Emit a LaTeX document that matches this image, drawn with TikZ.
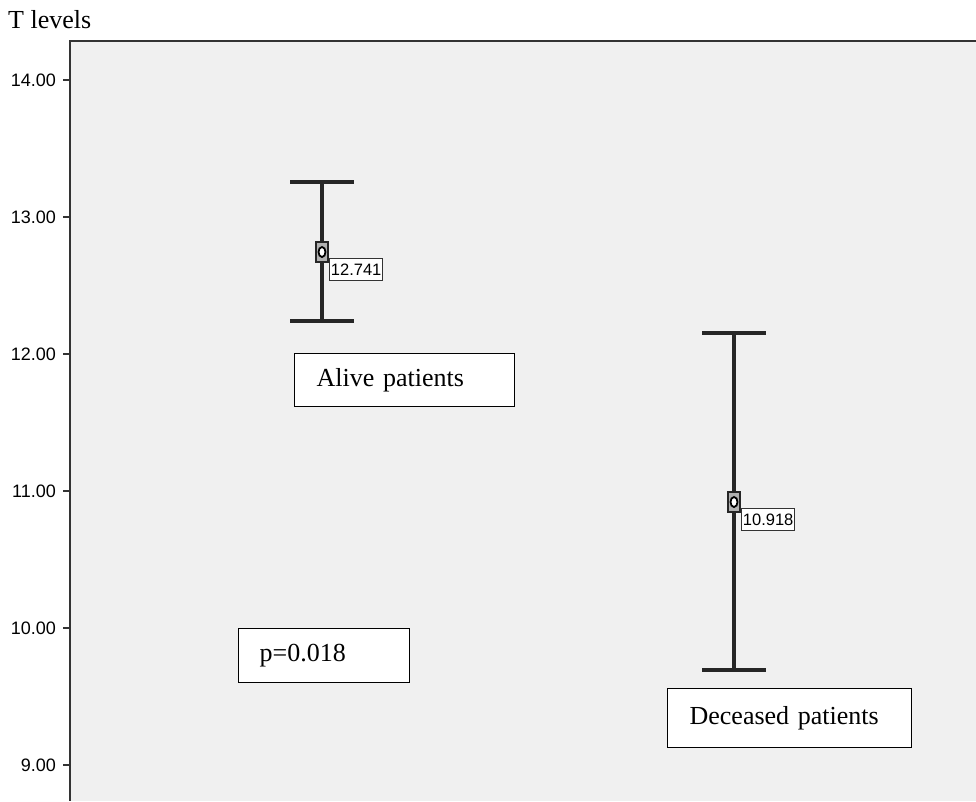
\documentclass[tikz,border=0pt]{standalone}
\usepackage{fontspec}
\setmainfont{Liberation Serif}
\setsansfont{Liberation Sans}
\definecolor{plotbg}{HTML}{F0F0F0}
\definecolor{axisgray}{HTML}{333333}
\tikzset{
  legendbox/.style={draw=black, line width=1.2pt, fill=white, font=\fontsize{26}{30}\selectfont,
    anchor=north west, align=left, inner xsep=22pt, inner ysep=0pt},
  meanlabel/.style={draw=axisgray, line width=0.8pt, fill=white, anchor=north west,
    font=\sffamily\fontsize{16.5}{18}\selectfont, inner xsep=1.5pt, inner ysep=1pt,
    minimum height=22pt},
  errbar/.style={line width=3.2pt, color=black!85},
  ticklabel/.style={anchor=east, font=\sffamily\fontsize{18}{20}\selectfont, inner sep=1pt}
}
\begin{document}
\begin{tikzpicture}[x=1pt, y=-1pt]
    \useasboundingbox (0,0) rectangle (976,801);

    % Plot area
    \fill[plotbg] (70,41) rectangle (976,801);
    \draw[axisgray, line width=2pt] (976,41) -- (70,41) -- (70,801);

    % Axis title
    \node[anchor=west, font=\fontsize{26}{30}\selectfont, inner sep=0pt] (ytitle) at (8,20) {T levels};

    % Ticks
    \foreach \v in {9,...,14} {
        \pgfmathsetmacro{\ypos}{628-(\v-10)*137}
        \draw[axisgray, line width=1.5pt] (63,\ypos) -- (70,\ypos);
        \node[ticklabel] at (57,\ypos) {\v.00};
    }

    % Alive patients
    \coordinate (alivetop) at (322,182);
    \coordinate (alivebot) at (322,321);
    \coordinate (alivemean) at (322,252);
    \draw[errbar] (alivetop) -- (alivebot);
    \draw[errbar] ([xshift=-32pt]alivetop) -- ([xshift=32pt]alivetop);
    \draw[errbar] ([xshift=-32pt]alivebot) -- ([xshift=32pt]alivebot);
    \filldraw[fill=gray!60, draw=black!85, line width=1.2pt] ([xshift=-6pt,yshift=10pt]alivemean) rectangle ([xshift=6pt,yshift=-10pt]alivemean);
    \filldraw[fill=white, draw=black, line width=1.8pt] (alivemean) ellipse (3.5pt and 5pt);
    \node[meanlabel] (alivelabel) at ([xshift=7pt,yshift=-6pt]alivemean) {12.741};

    % Deceased patients
    \coordinate (deadtop) at (734,333);
    \coordinate (deadbot) at (734,670);
    \coordinate (deadmean) at (734,502);
    \draw[errbar] (deadtop) -- (deadbot);
    \draw[errbar] ([xshift=-32pt]deadtop) -- ([xshift=32pt]deadtop);
    \draw[errbar] ([xshift=-32pt]deadbot) -- ([xshift=32pt]deadbot);
    \filldraw[fill=gray!60, draw=black!85, line width=1.2pt] ([xshift=-6pt,yshift=10pt]deadmean) rectangle ([xshift=6pt,yshift=-10pt]deadmean);
    \filldraw[fill=white, draw=black, line width=1.8pt] (deadmean) ellipse (3.5pt and 5pt);
    \node[meanlabel] (deadlabel) at ([xshift=7pt,yshift=-6pt]deadmean) {10.918};

    % Text boxes
    \node[legendbox, text width=176pt, minimum height=53pt] (alivebox) at (294,353) {Alive patients};
    \node[legendbox, text width=129pt, minimum height=54pt, inner xsep=21pt] (pbox) at (238,628) {p=0.018};
    \node[legendbox, text width=200pt, minimum height=59pt] (deadbox) at (667,688) {Deceased patients};
\end{tikzpicture}
\end{document}
